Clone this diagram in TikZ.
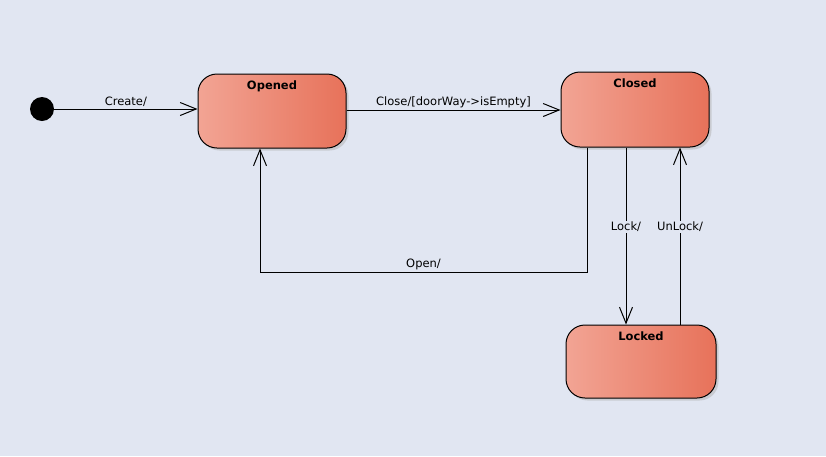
\documentclass[tikz,border=0pt]{standalone}
\usepackage{fontspec}
\setmainfont{DejaVu Sans}
\usetikzlibrary{arrows.meta,shadows}
\definecolor{canvasbg}{RGB}{225,230,242}
\definecolor{stateleft}{RGB}{242,164,148}
\definecolor{stateright}{RGB}{231,114,90}
\tikzset{
  state/.style={draw=black, line width=1pt, rounded corners=19pt,
    left color=stateleft, right color=stateright,
    drop shadow={shadow xshift=2.5pt, shadow yshift=-2.5pt, fill=black!30, opacity=0.5},
    minimum width=148pt, minimum height=74pt, inner sep=0pt},
  statename/.style={font=\fontsize{11.5}{13}\selectfont\bfseries, anchor=north, inner sep=0pt},
  initial/.style={circle, fill=black, minimum size=24pt, inner sep=0pt},
  trans/.style={draw=black, line width=1pt, -{Straight Barb[length=16pt,width=13pt,line width=1pt]}},
  translabel/.style={font=\fontsize{11.5}{13}\selectfont, inner sep=1pt}
}
\begin{document}
\begin{tikzpicture}[x=1pt,y=-1pt]
  \fill[canvasbg] (0,0) rectangle (826,456);
  \node[initial] (start) at (42,109) {};
  \node[state] (opened) at (272,111) {};
  \node[statename] at ([yshift=-7.5pt]opened.north) {Opened};
  \node[state, minimum height=75pt] (closed) at (635,109.5) {};
  \node[statename] at ([yshift=-7.5pt]closed.north) {Closed};
  \node[state, minimum width=150pt, minimum height=73pt] (locked) at (641,361.5) {};
  \node[statename] at ([yshift=-7.5pt]locked.north) {Locked};
  \coordinate (openturn) at (587,272);
  \coordinate (openback) at (260,272);
  \begin{scope}[trans]
    \draw (start) -- node[translabel, above=1pt] {Create/} (opened.west |- start);
    \draw (opened.east |- 0,110) -- node[translabel, above=1pt] {Close/[doorWay->isEmpty]} (closed.west |- 0,110);
    \draw (closed.south -| openturn) -- (openturn) -- node[translabel, above=1pt] {Open/} (openback) -- (opened.south -| openback);
    \draw (closed.south -| 626,0) -- node[translabel, fill=canvasbg, pos=0.45] {Lock/} (locked.north -| 626,0);
    \draw (locked.north -| 680,0) -- node[translabel, fill=canvasbg, pos=0.55] {UnLock/} (closed.south -| 680,0);
  \end{scope}
\end{tikzpicture}
\end{document}
